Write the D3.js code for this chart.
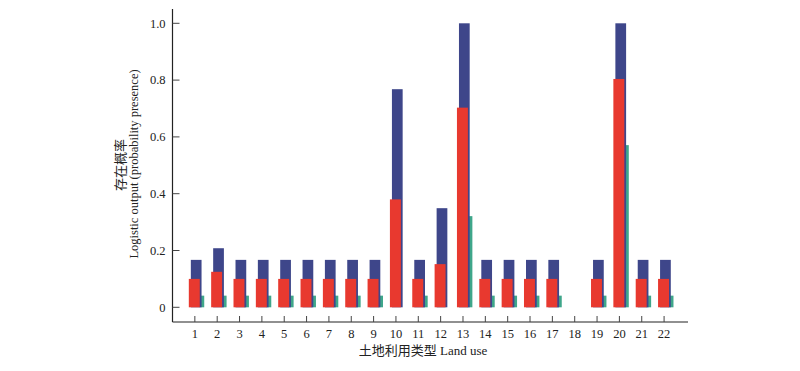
<!DOCTYPE html>
<html>
<head>
  <meta charset="utf-8" />
  <title>Logistic output by land use</title>
  <script src="https://d3js.org/d3.v7.min.js"></script>
  <style>
    body { margin: 0; background: #fff; }
    svg text { font-family: 'Liberation Serif', 'Noto Sans CJK SC', serif; fill: #222; }
  </style>
</head>
<body>
<div id='graph'></div>
<script>
  // land use categories 1..22
  var categories = d3.range(1, 23)
  // blue series (tallest, behind)
  var blueValues = [0.167, 0.208, 0.167, 0.167, 0.167, 0.167, 0.167, 0.167, 0.167, 0.768, 0.167,
                    0.349, 1.0, 0.167, 0.167, 0.167, 0.167, 0, 0.167, 1.0, 0.167, 0.167]
  // red series (front)
  var redValues = [0.10, 0.125, 0.10, 0.10, 0.10, 0.10, 0.10, 0.10, 0.10, 0.380, 0.10,
                   0.152, 0.703, 0.10, 0.10, 0.10, 0.10, 0, 0.10, 0.804, 0.10, 0.10]
  // teal series (thin, right)
  var tealValues = [0.041, 0.041, 0.041, 0.041, 0.041, 0.041, 0.041, 0.041, 0.041, 0, 0.041,
                    0, 0.321, 0.041, 0.041, 0.041, 0.041, 0, 0.041, 0.571, 0.041, 0.041]
  var yTicks = [0, 0.2, 0.4, 0.6, 0.8, 1.0]

  var width = 800, height = 371

  const svg = d3.select('#graph').append('svg')
    .attr('width', width)
    .attr('height', height)

  var xScale = d3.scaleLinear().domain([0, 23.07]).range([172.5, 688])
  var yScale = d3.scaleLinear().domain([0, 1]).range([307.3, 23.3])
  var axisY = 322

  var data = categories.map(function (c, i) {
    return { cat: c, blue: blueValues[i], red: redValues[i], teal: tealValues[i] }
  })

  function drawBars(key, color, x0, x1) {
    svg.append('g').selectAll('rect')
      .data(data.filter(function (d) { return d[key] > 0 }))
      .enter()
      .append('rect')
      .attr('x', function (d) { return xScale(d.cat + x0) })
      .attr('width', function (d) { return xScale(d.cat + x1) - xScale(d.cat + x0) })
      .attr('y', function (d) { return yScale(d[key]) })
      .attr('height', function (d) { return yScale(0) - yScale(d[key]) })
      .attr('fill', color)
  }

  drawBars('teal', '#3fa68a', 0.2, 0.42)
  drawBars('blue', '#3e468a', -0.18, 0.3)
  drawBars('red', '#e8392f', -0.27, 0.22)

  // Y axis
  const yAxis = svg.append('g').attr('transform', 'translate(' + xScale(0) + ',0)')
  yAxis.append('line')
    .attr('x1', 0).attr('x2', 0).attr('y1', 9).attr('y2', axisY)
    .attr('stroke', '#222').attr('stroke-width', 1.2)
  yAxis.selectAll('.tick').data(yTicks).enter().append('line')
    .attr('x1', 0).attr('x2', 7)
    .attr('y1', function (d) { return yScale(d) }).attr('y2', function (d) { return yScale(d) })
    .attr('stroke', '#444')
  yAxis.selectAll('.lbl').data(yTicks).enter().append('text')
    .attr('x', -7)
    .attr('y', function (d) { return yScale(d) })
    .attr('dy', '0.35em')
    .attr('text-anchor', 'end')
    .attr('font-size', 12.5)
    .text(function (d) { return d === 0 ? '0' : d3.format('.1f')(d) })

  // X axis
  const xAxis = svg.append('g').attr('transform', 'translate(0,' + axisY + ')')
  xAxis.append('line')
    .attr('x1', xScale(0)).attr('x2', 688).attr('y1', 0).attr('y2', 0)
    .attr('stroke', '#222').attr('stroke-width', 1.2)
  xAxis.selectAll('.tick').data(categories).enter().append('line')
    .attr('x1', function (d) { return xScale(d) }).attr('x2', function (d) { return xScale(d) })
    .attr('y1', 0).attr('y2', -6)
    .attr('stroke', '#444')
  xAxis.selectAll('.lbl').data(categories).enter().append('text')
    .attr('x', function (d) { return xScale(d) })
    .attr('y', 16)
    .attr('text-anchor', 'middle')
    .attr('font-size', 12.5)
    .text(function (d) { return d })

  // titles
  svg.append('text')
    .attr('x', 423).attr('y', 355)
    .attr('text-anchor', 'middle')
    .attr('font-size', 13)
    .text('土地利用类型  Land use')

  svg.append('text')
    .attr('transform', 'translate(125,165) rotate(-90)')
    .attr('text-anchor', 'middle')
    .attr('font-size', 13)
    .text('存在概率')

  svg.append('text')
    .attr('transform', 'translate(138,164) rotate(-90)')
    .attr('text-anchor', 'middle')
    .attr('font-size', 12.5)
    .text('Logistic output (probability presence)')
</script>
</body>
</html>
